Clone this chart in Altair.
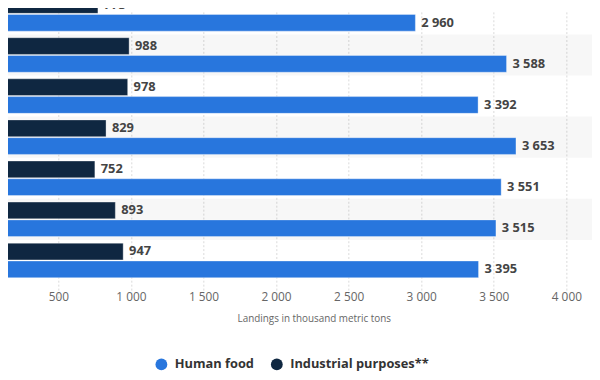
import altair as alt
import pandas as pd

# Category labels are cropped out of the reference; these names stay hidden.
groups = ["2012", "2013", "2014", "2015", "2016", "2017", "2018"]
human_food = [2960, 3588, 3392, 3653, 3551, 3515, 3395]
industrial = [773, 988, 978, 829, 752, 893, 947]
series = ["Human food", "Industrial purposes**"]
colors = ["#2876dd", "#0f2741"]
x_ticks = [500, 1000, 1500, 2000, 2500, 3000, 3500, 4000]

rows = []
for g, h, i in zip(groups, human_food, industrial):
    rows.append({"group": g, "series": series[0], "value": h})
    rows.append({"group": g, "series": series[1], "value": i})
df = pd.DataFrame(rows)
df["label"] = df["value"].map(lambda v: f"{v:,}".replace(",", " "))

stripes = pd.DataFrame({"group": groups[1::2]})

FONT = "Open Sans"
PI = 0.16
y_scale = alt.Scale(domain=groups, range=[-17.4, 274.2], paddingInner=PI, paddingOuter=PI / 2)
x_scale = alt.Scale(domain=[0, 4000], range=[-22.6, 566], nice=False, zero=False)
off_scale = alt.Scale(domain=[series[1], series[0]], paddingInner=0.06, paddingOuter=0)

x_axis = alt.Axis(
    values=x_ticks,
    labelExpr="replace(format(datum.value, ','), ',', ' ')",
    labelFlush=False,
    labelOverlap=False,
    domain=False,
    ticks=False,
    labelPadding=11,
    labelFont=FONT,
    labelFontSize=12,
    labelColor="#666666",
    title="Landings in thousand metric tons",
    titleFont=FONT,
    titleFontSize=10,
    titleFontWeight="normal",
    titleColor="#666666",
    titleX=310,
    titleY=38,
    titleAlign="center",
    titleBaseline="middle",
    gridColor="#d9d9d9",
    gridDash=[2, 2],
    gridWidth=1,
)

bg = alt.Chart(stripes).mark_bar(
    height=alt.RelativeBandSize(1 / (1 - PI)), color="black", opacity=0.03
).encode(
    y=alt.Y("group:N", scale=y_scale, axis=None),
    x=alt.value(0),
    x2=alt.value("width"),
)

bars = alt.Chart(df).mark_bar(stroke="white", strokeOpacity=0.35, strokeWidth=1).encode(
    y=alt.Y("group:N", scale=y_scale, axis=None),
    yOffset=alt.YOffset("series:N", scale=off_scale),
    x=alt.X("value:Q", scale=x_scale, axis=x_axis),
    color=alt.Color(
        "series:N",
        scale=alt.Scale(domain=series, range=colors),
        legend=alt.Legend(
            orient="none",
            legendX=149,
            legendY=352,
            direction="horizontal",
            title=None,
            symbolType="circle",
            symbolSize=144,
            symbolStrokeWidth=0,
            labelFont=FONT,
            labelFontSize=13,
            labelFontWeight="bold",
            labelColor="#333333",
            labelOffset=7,
            columnPadding=16,
            padding=0,
        ),
    ),
)

labels = alt.Chart(df).mark_text(
    align="left", baseline="middle", dx=6, font=FONT, fontSize=13,
    fontWeight="bold", color="#444444",
).encode(
    y=alt.Y("group:N", scale=y_scale, axis=None),
    yOffset=alt.YOffset("series:N", scale=off_scale),
    x=alt.X("value:Q", scale=x_scale),
    text="label:N",
)

chart = alt.layer(bg, bars, labels).properties(
    width=592,
    height=274,
    autosize=alt.AutoSizeParams(type="none"),
    padding={"left": 0, "top": 0, "right": 0, "bottom": 96},
).configure_view(stroke=None)

chart.save("out.html", embed_options={"renderer": "svg", "actions": False})
